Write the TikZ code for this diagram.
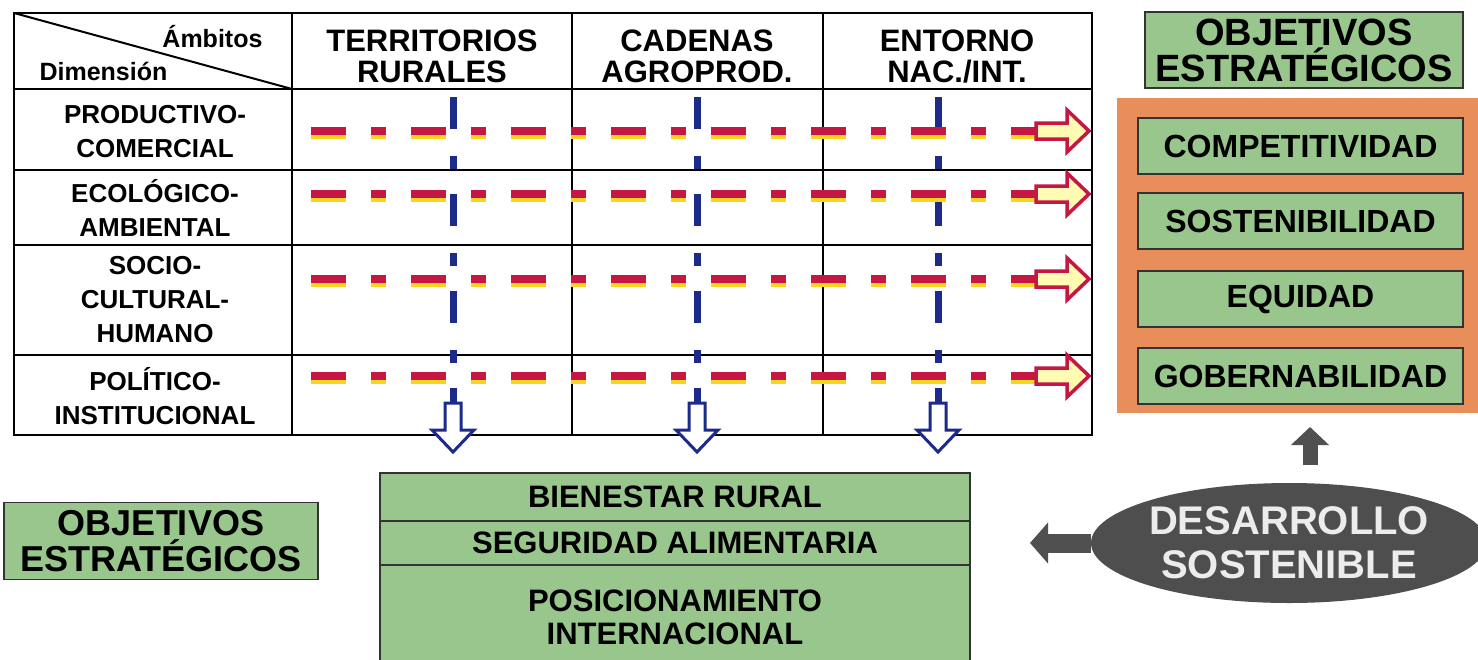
\documentclass[tikz,border=0pt]{standalone}
\usepackage{fontspec}
\setmainfont{Liberation Sans}
\usetikzlibrary{arrows.meta,shapes.geometric}

\definecolor{boxgreen}{RGB}{152,198,140}
\definecolor{boxorange}{RGB}{232,142,90}
\definecolor{dashred}{RGB}{198,22,68}
\definecolor{dashyellow}{RGB}{244,214,30}
\definecolor{dashblue}{RGB}{28,42,138}
\definecolor{ellgray}{RGB}{78,78,78}
\definecolor{arrgray}{RGB}{80,80,80}

\tikzset{
  grid/.style={line width=2.2pt},
  colhead/.style={font=\fontsize{31}{31}\selectfont\bfseries, align=center},
  rowhead/.style={font=\fontsize{26}{34}\selectfont\bfseries, align=center},
  greenbox/.style={draw=black!80, line width=1.8pt, fill=boxgreen, inner sep=0pt, align=center},
  redline/.style={dashred, line width=8pt, dash pattern=on 35pt off 25pt on 15pt off 25pt},
  yellowline/.style={dashyellow, line width=6pt, dash pattern=on 35pt off 25pt on 15pt off 25pt, transform canvas={yshift=-5pt}},
  blueline/.style={dashblue, line width=7pt, dash pattern=on 32pt off 27pt on 13pt off 25pt},
  hollowred/.style={draw=dashred, line width=3.5pt, fill=yellow!30!white, line join=miter},
  hollowblue/.style={draw=dashblue, line width=3pt, fill=white, line join=miter},
  grayarrow/.style={arrgray, line width=19pt, -{Triangle[length=18pt,width=40pt]}},
}

\begin{document}
\begin{tikzpicture}[x=1pt,y=-1pt]
\useasboundingbox (0,0) rectangle (1478,659);
\fill[white] (0,0) rectangle (1478,659);

\draw[grid] (14,13) rectangle (1092,435);
\foreach \x in {292,572,823} \draw[grid] (\x,13) -- (\x,435);
\foreach \y in {89,170,245,355} \draw[grid] (14,\y) -- (1092,\y);
\draw[line width=2pt] (14,13) -- (292,89);

\node[font=\fontsize{25}{25}\selectfont\bfseries, anchor=east] (ambitos) at (266,37) {Ámbitos};
\node[font=\fontsize{25}{25}\selectfont\bfseries, anchor=west] (dimension) at (36,71) {Dimensión};
\foreach \t/\x [count=\i] in {{TERRITORIOS\\RURALES}/432,{CADENAS\\AGROPROD.}/697,{ENTORNO\\NAC./INT.}/957}
  \node[colhead] (col-\i) at (\x,56) {\t};
\foreach \t/\y [count=\i] in {{PRODUCTIVO-\\COMERCIAL}/132,{ECOLÓGICO-\\AMBIENTAL}/208,{SOCIO-\\CULTURAL-\\HUMANO}/300,{POLÍTICO-\\INSTITUCIONAL}/396}
  \node[rowhead] (dim-\i) at (155,\y) {\t};

\foreach \x [count=\i] in {453,697,938}{
  \coordinate (bs-\i) at (\x,97);
  \coordinate (be-\i) at (\x,403);
  \draw[blueline] (bs-\i) -- (be-\i);
  \draw[hollowblue] (be-\i) ++(-8,0) -- ++(16,0) -- ++(0,27) -- ++(13,0) -- ++(-21,22) -- ++(-21,-22) -- ++(13,0) -- cycle;
}
\foreach \y [count=\i] in {131,194,279,376}{
  \coordinate (rs-\i) at (311,\y);
  \coordinate (re-\i) at (1036,\y);
  \draw[yellowline] (rs-\i) -- (re-\i);
  \draw[redline] (rs-\i) -- (re-\i);
  \draw[hollowred] (re-\i) ++(0,-8) -- ++(31,0) -- ++(0,-13) -- ++(22,21) -- ++(-22,21) -- ++(0,-13) -- ++(-31,0) -- cycle;
}

\node[greenbox, minimum width=318pt, minimum height=76pt, font=\fontsize{38}{36}\selectfont\bfseries] (obj-top) at (1304,50) {OBJETIVOS\\ESTRATÉGICOS};
\node[fill=boxorange, minimum width=361pt, minimum height=315pt, inner sep=0pt] (marco) at (1297.5,255.5) {};
\foreach \t/\y [count=\i] in {COMPETITIVIDAD/146,SOSTENIBILIDAD/221,EQUIDAD/299,GOBERNABILIDAD/376}
  \node[greenbox, minimum width=325pt, minimum height=56pt, font=\fontsize{32}{32}\selectfont\bfseries] (obj-\i) at (1300.5,\y) {\t};

\node[greenbox, minimum width=314pt, minimum height=77pt, font=\fontsize{36}{36}\selectfont\bfseries] (obj-left) at (161,541) {OBJETIVOS\\ESTRATÉGICOS};

\foreach \t/\y/\h [count=\i] in {{BIENESTAR RURAL}/497/48,{SEGURIDAD ALIMENTARIA}/543/44,{POSICIONAMIENTO\\INTERNACIONAL}/617/104}
  \node[greenbox, minimum width=590pt, minimum height=\h pt, font=\fontsize{31}{33}\selectfont\bfseries] (meta-\i) at (675,\y) {\t};

\node[ellipse, fill=ellgray, minimum width=378pt, minimum height=120pt, inner sep=0pt, text=gray!15, align=center, font=\fontsize{40}{44}\selectfont\bfseries] (desarrollo) at (1289,543) {DESARROLLO\\SOSTENIBLE};

\coordinate (left-tip) at (1030,543);
\coordinate (up-tail) at (1310,465);
\coordinate (up-tip) at (1310,427);
\draw[grayarrow] (desarrollo.west) -- (left-tip);
\draw[grayarrow, line width=15pt, -{Triangle[length=18pt,width=37pt]}] (up-tail) -- (up-tip);
\end{tikzpicture}
\end{document}
